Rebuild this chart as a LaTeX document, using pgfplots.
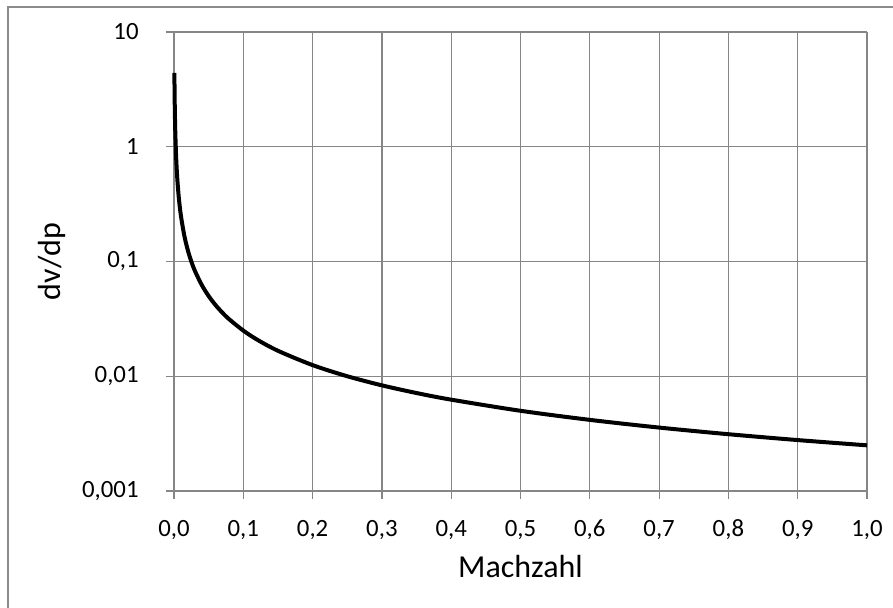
\documentclass[border=0pt]{standalone}
\usepackage{pgfplots}
\pgfplotsset{compat=1.18}
\usepackage{fontspec}
\setmainfont{Carlito}
\definecolor{gridgray}{RGB}{134,134,134}
\definecolor{bordergray}{RGB}{140,140,140}
\newcommand{\tl}[1]{{\fontsize{12.4}{14.5}\selectfont #1}}
\begin{document}
\begin{tikzpicture}
\useasboundingbox (0,0) rectangle (446.5pt,304pt);
\draw[bordergray, line width=1pt] (4pt,0) -- (4pt,300.5pt) -- (446.5pt,300.5pt);
\begin{axis}[
  at={(87pt,58.5pt)}, anchor=south west,
  scale only axis, width=346.5pt, height=229.5pt,
  ymode=log, xmin=0, xmax=1, ymin=0.001, ymax=10,
  axis line style={gridgray, line width=0.6pt},
  axis x line*=bottom, axis y line*=left,
  grid=major, major grid style={gridgray, line width=0.6pt},
  tick align=outside, major tick length=4pt,
  tick style={gridgray, line width=0.6pt},
  minor tick num=0, yminorticks=false,
  xtick={0,0.1,0.2,0.3,0.4,0.5,0.6,0.7,0.8,0.9,1},
  xticklabels={\tl{0,0},\tl{0,1},\tl{0,2},\tl{0,3},\tl{0,4},\tl{0,5},\tl{0,6},\tl{0,7},\tl{0,8},\tl{0,9},\tl{1,0}},
  ytick={0.001,0.01,0.1,1,10},
  yticklabels={\tl{0,001},\tl{0,01},\tl{0,1},\tl{1},\tl{10}},
  every tick label/.append style={text=black},
  xticklabel style={inner sep=0pt, anchor=base, yshift=-19pt},
  yticklabel style={inner sep=0pt, xshift=-13.5pt},
  xlabel={Machzahl}, ylabel={dv/dp},
  label style={font=\fontsize{16}{19}\selectfont, text=black},
  xlabel style={at={(axis description cs:0.5,-0.1874)}, anchor=base},
  ylabel style={at={(axis description cs:-0.176,0.5)}, anchor=center},
  clip=false,
]
\addplot[black, line width=2pt, line join=round, smooth] coordinates {
(0.00057,4.4) (0.0008,3.125) (0.001,2.5) (0.0015,1.667) (0.002,1.25)
(0.003,0.8333) (0.004,0.625) (0.005,0.5) (0.007,0.357) (0.01,0.25)
(0.015,0.1667) (0.02,0.125) (0.025,0.1) (0.03,0.0833) (0.04,0.0625)
(0.05,0.05) (0.06,0.04167) (0.07,0.0357) (0.08,0.03125) (0.1,0.025)
(0.12,0.02083) (0.15,0.01667) (0.2,0.0125) (0.25,0.01) (0.3,0.00833)
(0.35,0.00714) (0.4,0.00625) (0.5,0.005) (0.6,0.004167) (0.7,0.003571)
(0.8,0.003125) (0.9,0.002778) (1.0,0.0025)
};
\end{axis}
\end{tikzpicture}
\end{document}
